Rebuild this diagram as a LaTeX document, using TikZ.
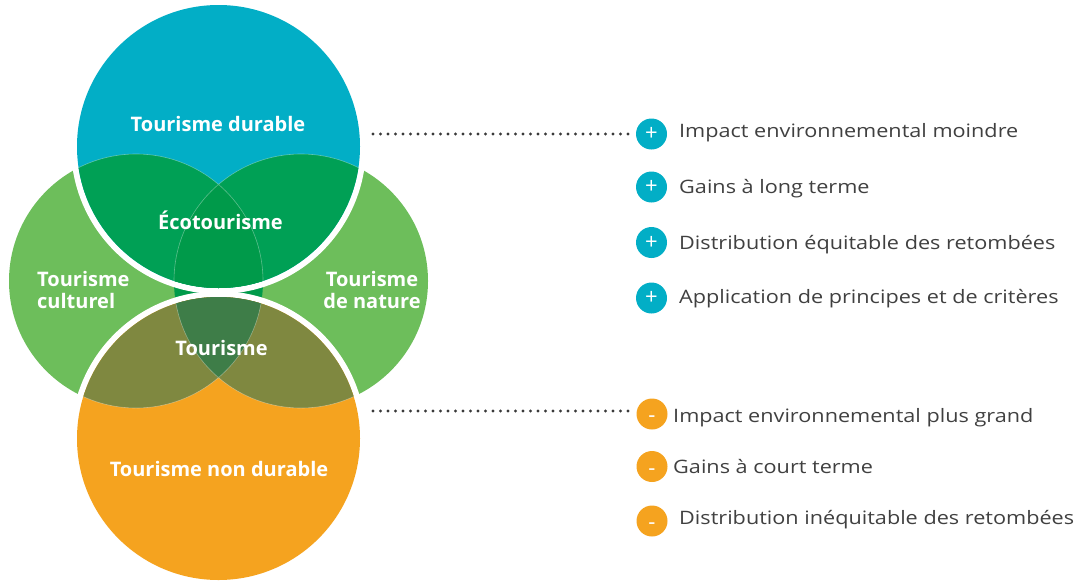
\documentclass[tikz,border=0pt]{standalone}
\usepackage{fontspec}
\setmainfont{Open Sans}
\newfontfamily\listfont[FakeStretch=1.17]{Open Sans}
\definecolor{cblue}{HTML}{02AEC6}
\definecolor{cgreen}{HTML}{6DBE5B}
\definecolor{cbg}{HTML}{00A055}
\definecolor{ceco}{HTML}{009A4A}
\definecolor{corange}{HTML}{F5A31F}
\definecolor{colive}{HTML}{7F8840}
\definecolor{ctour}{HTML}{3E7D48}
\definecolor{ctext}{HTML}{404040}
\definecolor{cdot}{HTML}{3A3A3A}
\newcommand\minusmark{\raisebox{-8.5pt}[0pt][0pt]{-}}
\tikzset{
  lab/.style={text=white, font=\fontsize{20}{22}\selectfont\bfseries, inner sep=0pt},
  item/.style={text=ctext, font=\listfont\fontsize{18.5}{20}\selectfont, inner sep=0pt, anchor=base west},
  pbul/.style={circle, fill=cblue, minimum size=31pt, inner sep=0pt, text=white, font=\fontsize{22}{22}\selectfont},
  mbul/.style={circle, fill=corange, minimum size=31pt, inner sep=0pt, text=white, font=\fontsize{22}{22}\selectfont},
  dotline/.style={cdot, line width=3.4pt, line cap=round, dash pattern=on 0pt off 7.5pt},
  thin/.style={white, opacity=.35, line width=.6pt}
}
\begin{document}
\begin{tikzpicture}[x=1pt,y=-1pt]
\useasboundingbox (0,0) rectangle (1083,581);
\coordinate (L) at (136,281);
\coordinate (R) at (301,281);
\coordinate (B) at (218.5,146.5);
\coordinate (O) at (218.5,438.5);
\def\rg{127pt}
\def\rc{141.5pt}
% green circles
\fill[cgreen] (L) circle[radius=\rg];
\fill[cgreen] (R) circle[radius=\rg];
\begin{scope}
  \clip (L) circle[radius=\rg];
  \fill[ceco] (R) circle[radius=\rg];
\end{scope}
% white halos
\fill[white] (B) circle[radius=147.5pt];
\fill[white] (O) circle[radius=147.5pt];
% blue circle
\fill[cblue] (B) circle[radius=\rc];
\begin{scope}
  \clip (B) circle[radius=\rc];
  \fill[cbg] (L) circle[radius=\rg];
  \fill[cbg] (R) circle[radius=\rg];
  \begin{scope}
    \clip (L) circle[radius=\rg];
    \fill[ceco] (R) circle[radius=\rg];
  \end{scope}
  \draw[thin] (L) circle[radius=\rg] (R) circle[radius=\rg];
\end{scope}
% orange circle
\fill[corange] (O) circle[radius=\rc];
\begin{scope}
  \clip (O) circle[radius=\rc];
  \fill[colive] (L) circle[radius=\rg];
  \fill[colive] (R) circle[radius=\rg];
  \begin{scope}
    \clip (L) circle[radius=\rg];
    \fill[ctour] (R) circle[radius=\rg];
  \end{scope}
  \draw[thin] (L) circle[radius=\rg] (R) circle[radius=\rg];
\end{scope}
% labels
\node[lab, anchor=base] (ldur) at (218,131) {Tourisme durable};
\node[lab, anchor=base] (leco) at (220.5,229) {Écotourisme};
\node[lab, anchor=base] (ltour) at (221.5,355) {Tourisme};
\node[lab, anchor=base] (lnon) at (219,476) {Tourisme non durable};
\node[lab, anchor=west, align=left] (lcul) at (37,290) {Tourisme\\culturel};
\node[lab, anchor=center, align=center] (lnat) at (372,290) {Tourisme\\de nature};
% plus list
\node[pbul] (p1) at (651.5,134) {+};
\node[pbul] (p2) at (651.5,187) {+};
\node[pbul] (p3) at (651.5,242.5) {+};
\node[pbul] (p4) at (651.5,298) {+};
\node[item] (t1) at (679,137) {Impact environnemental moindre};
\node[item] (t2) at (679,193) {Gains à long terme};
\node[item] (t3) at (679,249) {Distribution équitable des retombées};
\node[item] (t4) at (679,303.5) {Application de principes et de critères};
% minus list
\node[mbul] (m1) at (652,414) {\minusmark};
\node[mbul] (m2) at (652,466.5) {\minusmark};
\node[mbul] (m3) at (652,521) {\minusmark};
\node[item] (u1) at (673,422) {Impact environnemental plus grand};
\node[item] (u2) at (673,473) {Gains à court terme};
\node[item] (u3) at (679,524) {Distribution inéquitable des retombées};
% dotted connectors
\coordinate (d1) at (373,134);
\coordinate (d2) at (373,411);
\draw[dotline, shorten >=7pt] (d1) -- (p1.west);
\draw[dotline, shorten >=7pt] (d2) -- (d2 -| m1.west);
\end{tikzpicture}
\end{document}
